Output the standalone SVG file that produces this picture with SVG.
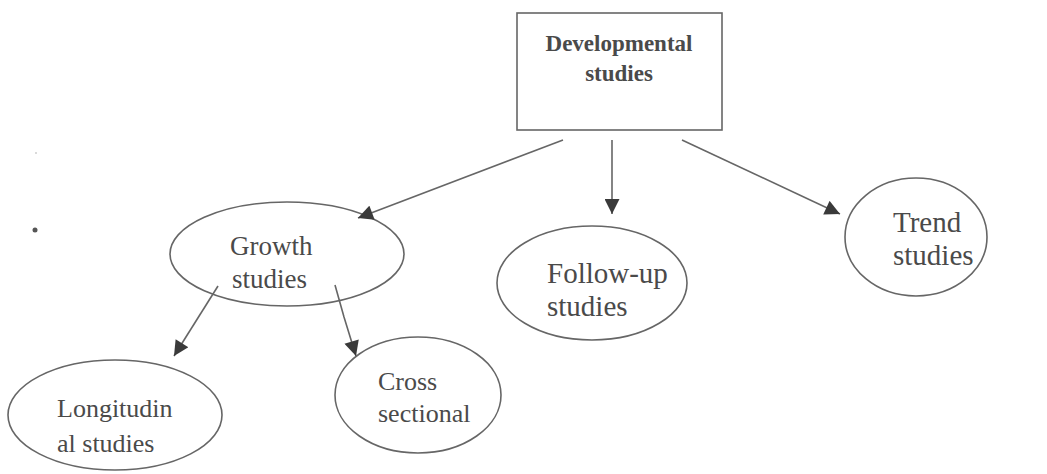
<svg xmlns="http://www.w3.org/2000/svg" width="1047" height="474" viewBox="0 0 1047 474">
<style>
.shape{fill:none;stroke:#666;stroke-width:1.6}
.t{font-family:"Liberation Serif","Times New Roman",serif;fill:#4a4a4a}
.big{font-size:29px}
.mid{font-size:27px}
.sm{font-size:26px}
.b{font-size:23px;font-weight:bold;text-anchor:middle}
.c{stroke:#666;stroke-width:1.6;fill:none;marker-end:url(#ah)}
</style>
<defs>
<marker id="ah" viewBox="0 0 10 10" refX="10" refY="5" markerWidth="17" markerHeight="15" markerUnits="userSpaceOnUse" orient="auto">
<path d="M0,0 L10,5 L0,10 z" fill="#3a3a3a"/>
</marker>
</defs>
<rect width="1047" height="474" fill="#fff"/>
<circle cx="35" cy="230" r="2.5" fill="#555"/>
<circle cx="36" cy="153" r="0.8" fill="#aaa"/>
<g id="developmental">
<rect class="shape" x="517" y="13" width="205" height="117"/>
<text class="t b" x="619" y="51">Developmental</text>
<text class="t b" x="619" y="81">studies</text>
</g>
<g id="growth">
<ellipse class="shape" cx="287" cy="254" rx="117" ry="52"/>
<text class="t mid" x="230" y="255">Growth</text>
<text class="t mid" x="232" y="288">studies</text>
</g>
<g id="followup">
<ellipse class="shape" cx="592" cy="283" rx="95" ry="57"/>
<text class="t big" x="547" y="283">Follow-up</text>
<text class="t big" x="547" y="316">studies</text>
</g>
<g id="trend">
<ellipse class="shape" cx="916" cy="237" rx="71" ry="59"/>
<text class="t big" x="893" y="232">Trend</text>
<text class="t big" x="893" y="265">studies</text>
</g>
<g id="longitudinal">
<ellipse class="shape" cx="115" cy="415" rx="107" ry="55"/>
<text class="t sm" x="57" y="417">Longitudin</text>
<text class="t sm" x="57" y="452">al studies</text>
</g>
<g id="cross">
<ellipse class="shape" cx="418" cy="395" rx="83" ry="58"/>
<text class="t sm" x="378" y="390">Cross</text>
<text class="t sm" x="378" y="422">sectional</text>
</g>
<g id="connectors">
<line class="c" x1="563" y1="140" x2="358" y2="218"/>
<line class="c" x1="612" y1="140" x2="612" y2="214"/>
<line class="c" x1="682" y1="140" x2="840" y2="214"/>
<line class="c" x1="218" y1="286" x2="174" y2="356"/>
<polyline class="c" points="335,285 344,317 356,356"/>
</g>
</svg>
